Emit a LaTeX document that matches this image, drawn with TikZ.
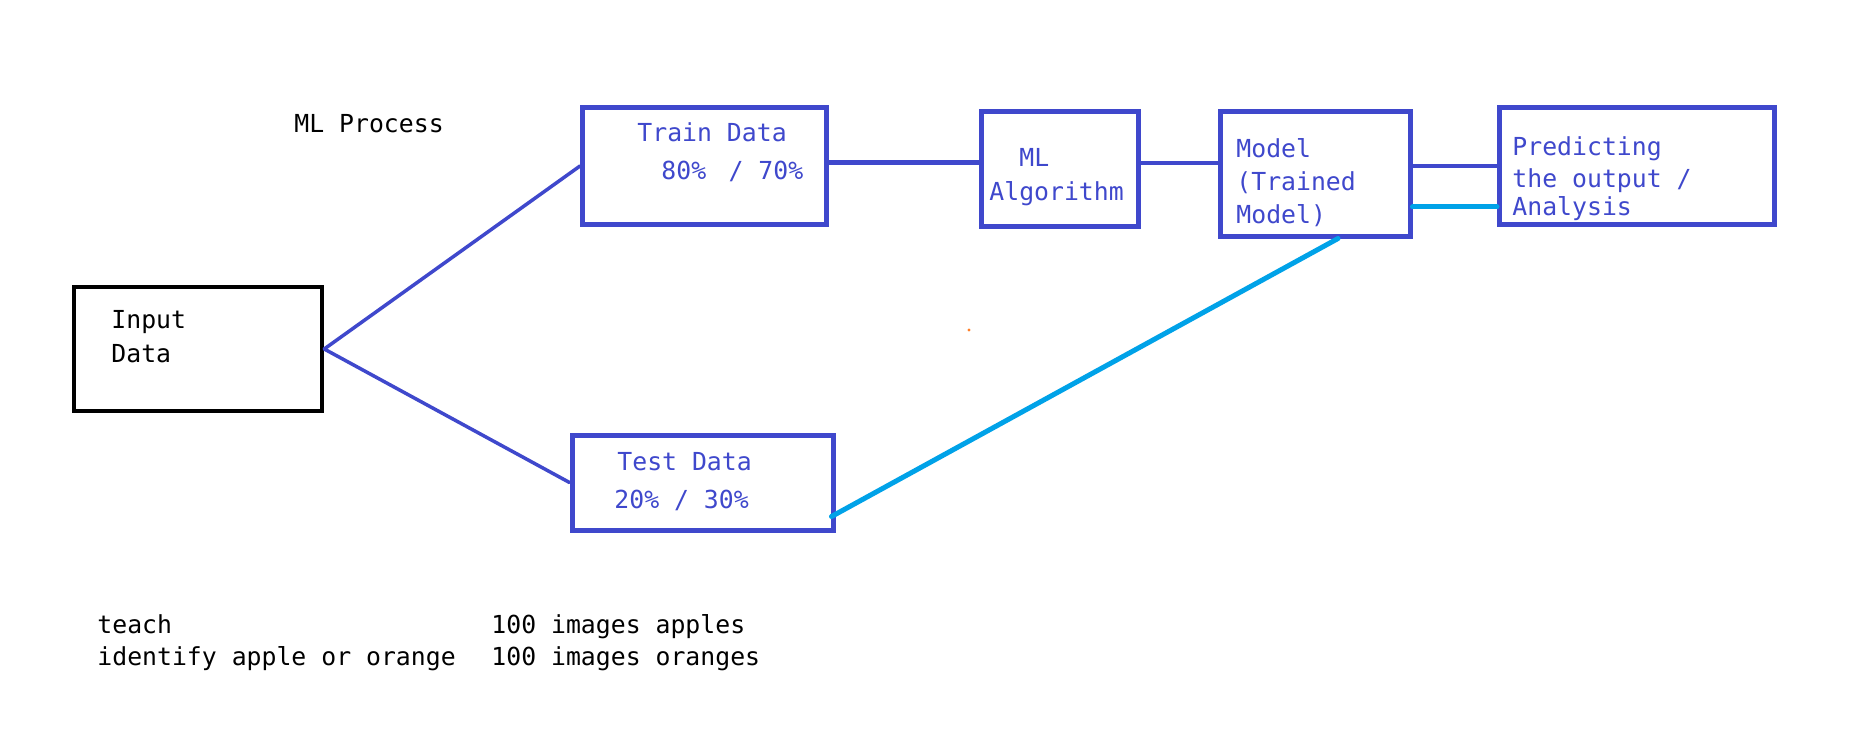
\documentclass[tikz,border=0pt]{standalone}
\usepackage{fontspec}
\setmonofont{DejaVu Sans Mono}
\definecolor{mlblue}{RGB}{63,72,204}
\definecolor{mlcyan}{RGB}{0,162,232}
\definecolor{mlorange}{RGB}{255,127,39}
\begin{document}
\begin{tikzpicture}[x=0.5pt,y=-0.5pt,
  databox/.style={draw=mlblue, line width=2.5pt, inner sep=0pt},
  inbox/.style={draw=black, line width=2.25pt, inner sep=0pt},
  txt/.style={anchor=base west, inner sep=0pt, font=\ttfamily\fontsize{12.4}{15}\selectfont},
  link/.style={mlblue, line width=2.25pt, line cap=round},
  testlink/.style={mlcyan, line width=2.5pt, line cap=round}]
  \fill[white] (0,0) rectangle (1850,743);

  % boxes
  \node[inbox, minimum width=124pt, minimum height=62pt] (input) at (198,349) {};
  \node[databox, minimum width=122pt, minimum height=58.5pt] (train) at (704.5,166) {};
  \node[databox, minimum width=78.5pt, minimum height=57.5pt] (algo) at (1059.5,169.5) {};
  \node[databox, minimum width=95pt, minimum height=62pt] (model) at (1315,174) {};
  \node[databox, minimum width=137.5pt, minimum height=58.5pt] (predict) at (1637,166) {};
  \node[databox, minimum width=130.5pt, minimum height=47.5pt] (test) at (702.5,482.5) {};

  % texts
  \node[txt] (title) at (294,133) {ML Process};
  \node[txt] (inputa) at (111,328) {Input};
  \node[txt] (inputb) at (111,362) {Data};
  \node[txt, mlblue] (traina) at (637,142) {Train Data};
  \node[txt, mlblue] (trainb) at (661,180) {80\%~\hspace{0.3em}/ 70\%};
  \node[txt, mlblue] (algoa) at (1019,167) {ML};
  \node[txt, mlblue] (algob) at (989,200) {Algorithm};
  \node[txt, mlblue] (modela) at (1236,158) {Model};
  \node[txt, mlblue] (modelb) at (1236,191) {(Trained};
  \node[txt, mlblue] (modelc) at (1236,223) {Model)};
  \node[txt, mlblue] (predicta) at (1512,156) {Predicting};
  \node[txt, mlblue] (predictb) at (1512,188) {the output /};
  \node[txt, mlblue] (predictc) at (1512,216) {Analysis};
  \node[txt, mlblue] (testa) at (617,470) {Test Data};
  \node[txt, mlblue] (testb) at (614,508) {20\% / 30\%};
  \node[txt] (notea) at (97,633) {teach};
  \node[txt] (noteb) at (97,665) {identify apple or orange};
  \node[txt] (notec) at (491,633) {100 images apples};
  \node[txt] (noted) at (491,665) {100 images oranges};

  % connectors
  \draw[link, line width=1.75pt] (input.east) -- (train.west);
  \draw[link, line width=1.75pt] (input.east) -- (test.west);
  \draw[link] ([yshift=1.75pt]train.east) -- ([yshift=1.75pt]train.east -| algo.west);
  \draw[link] ([yshift=3.25pt]algo.east) -- ([yshift=3.25pt]algo.east -| model.west);
  \draw[link] (model.east |- predict.west) -- (predict.west);
  \draw[testlink] ([yshift=-16.5pt]model.east) -- ([yshift=-16.5pt]model.east -| predict.west);
  \draw[testlink] ([xshift=11.5pt]model.south) -- ([xshift=-2pt,yshift=-17pt]test.east);

  \fill[mlorange] (969,330) circle (0.8pt);
\end{tikzpicture}
\end{document}
